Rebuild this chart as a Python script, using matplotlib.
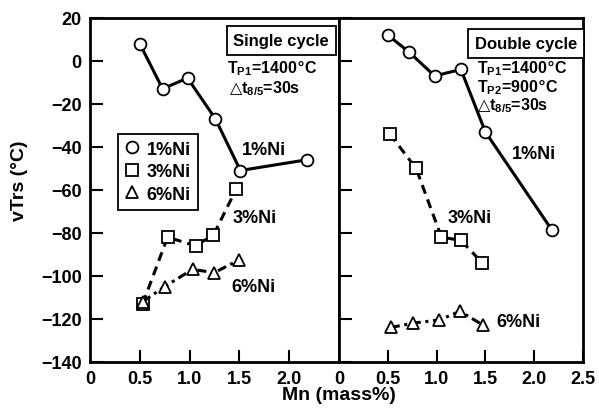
import matplotlib.pyplot as plt
from matplotlib.lines import Line2D
import numpy as np

plt.rcParams['font.family'] = ['Liberation Sans', 'DejaVu Sans']
plt.rcParams['font.weight'] = 'bold'
plt.rcParams['mathtext.default'] = 'bf'

# Single cycle
s_mn1 = [0.5, 0.73, 0.98, 1.26, 1.51, 2.18]
s_ni1 = [8, -13, -8, -27, -51, -46]
s_mn3 = [0.53, 0.78, 1.06, 1.24, 1.47]
s_ni3 = [-113, -82, -86, -81, -59.5]
s_mn6 = [0.53, 0.75, 1.03, 1.25, 1.5]
s_ni6 = [-112, -105, -97, -98.5, -92.5]

# Double cycle
d_mn1 = [0.5, 0.72, 0.98, 1.25, 1.5, 2.18]
d_ni1 = [12, 4, -7, -4, -33, -78.5]
d_mn3 = [0.52, 0.79, 1.05, 1.25, 1.47]
d_ni3 = [-34, -50, -82, -83.5, -94]
d_mn6 = [0.53, 0.76, 1.03, 1.24, 1.48]
d_ni6 = [-124, -122, -120.5, -116.5, -123]

fig = plt.figure(figsize=(5.99, 4.10), dpi=100)
ax1 = fig.add_axes([0.150, 0.115, 0.416, 0.839])
ax2 = fig.add_axes([0.566, 0.115, 0.407, 0.839])

mk = dict(color='black', markerfacecolor='white', markeredgecolor='black',
          markersize=8.5, markeredgewidth=1.3, lw=2.2)
ls3 = (0, (3, 2))
ls6 = (0, (3, 1.5, 1, 1.5))

def draw(ax, mn1, n1, mn3, n3, mn6, n6):
    ax.plot(mn1, n1, '-', marker='o', **mk)
    ax.plot(mn3, n3, marker='s', ls=ls3, **mk)
    ax.plot(mn6, n6, marker='^', ls=ls6, **mk)
    ax.set_xlim(0, 2.5)
    ax.set_ylim(-140, 20)
    ax.set_yticks(np.arange(-140, 21, 20))
    ax.tick_params(direction='in', length=9, width=1.5, labelsize=13, pad=6)
    for s in ax.spines.values():
        s.set_linewidth(2)

draw(ax1, s_mn1, s_ni1, s_mn3, s_ni3, s_mn6, s_ni6)
draw(ax2, d_mn1, d_ni1, d_mn3, d_ni3, d_mn6, d_ni6)

ax1.set_xticks([0, 0.5, 1.0, 1.5, 2.0])
ax1.set_xticklabels(['0', '0.5', '1.0', '1.5', '2.0'])
ax1.set_yticklabels(['\u2212140', '\u2212120', '\u2212100', '\u221280', '\u221260',
                     '\u221240', '\u221220', '0', '20'])
ax2.set_xticks([0, 0.5, 1.0, 1.5, 2.0, 2.5])
ax2.set_xticklabels(['0', '0.5', '1.0', '1.5', '2.0', '2.5'])
ax2.tick_params(labelleft=False)
for ax in (ax1, ax2):
    ax.xaxis.get_ticklines()[0].set_visible(False)

box = dict(boxstyle='square,pad=0.4', fc='white', ec='black', lw=1.3)
dt = r'$\bigtriangleup$t$_{\mathregular{8/5}}$=30s'
tp1 = r'T$_{\mathregular{P1}}$=1400$\degree$C'
tp2 = r'T$_{\mathregular{P2}}$=900$\degree$C'

# single cycle
ax1.text(2.40, 9.5, 'Single cycle', ha='right', va='center', fontsize=12, bbox=box)
ax1.text(1.38, -3.2, tp1, fontsize=11.5, va='center')
ax1.text(1.40, -12.5, dt, fontsize=11.5, va='center')
ax1.text(1.53, -41, '1%Ni', fontsize=13, va='center')
ax1.text(1.43, -73, '3%Ni', fontsize=13, va='center')
ax1.text(1.42, -105, '6%Ni', fontsize=13, va='center')

handles = [Line2D([], [], ls='none', marker=m, markersize=8.5, markerfacecolor='white',
                  markeredgecolor='black', markeredgewidth=1.3) for m in ('o', 's', '^')]
leg = ax1.legend(handles, ['1%Ni', '3%Ni', '6%Ni'], loc='upper left',
                 bbox_to_anchor=(0.075, 0.69), fancybox=False, edgecolor='black',
                 fontsize=13, handlelength=0.8, handletextpad=0.4, borderpad=0.4,
                 labelspacing=0.3, framealpha=1)
leg.get_frame().set_linewidth(1.3)

# double cycle
ax2.text(2.44, 8, 'Double cycle', ha='right', va='center', fontsize=12, bbox=box)
ax2.text(1.41, -3.2, tp1, fontsize=11.5, va='center')
ax2.text(1.41, -11.8, tp2, fontsize=11.5, va='center')
ax2.text(1.41, -20.6, dt, fontsize=11.5, va='center')
ax2.text(1.77, -43, '1%Ni', fontsize=13, va='center')
ax2.text(1.11, -73, '3%Ni', fontsize=13, va='center')
ax2.text(1.61, -121, '6%Ni', fontsize=13, va='center')

fig.text(0.566, 0.035, 'Mn (mass%)', ha='center', va='center', fontsize=14)
fig.text(0.032, 0.56, 'vTrs (\u00b0C)', ha='center', va='center', rotation=90, fontsize=14)

plt.savefig('out.png', dpi=100)
